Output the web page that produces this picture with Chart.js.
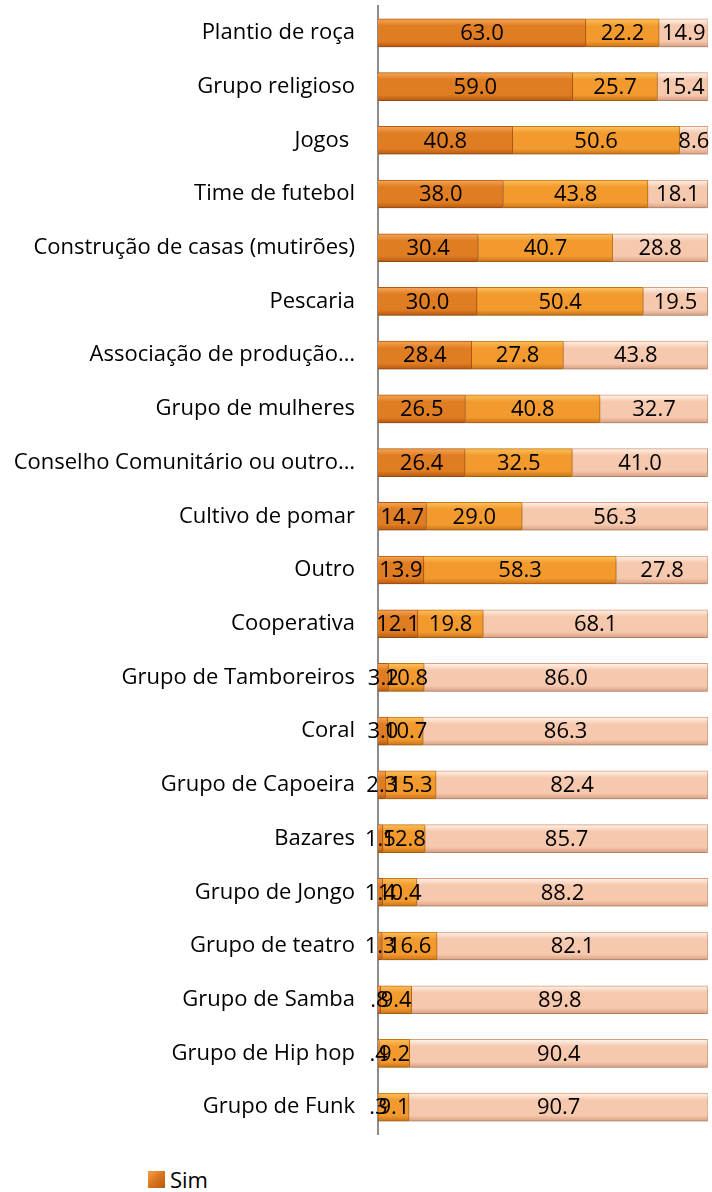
<!DOCTYPE html>
<html>
<head>
<meta charset="utf-8">
<script src="https://cdn.jsdelivr.net/npm/chart.js@4/dist/chart.umd.min.js"></script>
<style>
  html, body { margin: 0; padding: 0; background: #fff; }
  #wrap { position: relative; width: 712px; height: 1192px; }
  #c { position: absolute; left: 0; top: 0; }
  #legend { position: absolute; left: 148px; top: 1164px; font-family: "Open Sans", sans-serif; font-size: 22px; color: #000; display: flex; align-items: center; }
  #legend .box { width: 17px; height: 17px; margin-right: 5px; background: linear-gradient(135deg, #f3a14a 0%, #d9731c 50%, #b85a10 100%); }
</style>
</head>
<body>
<div id="wrap">
  <canvas id="c" width="712" height="1145"></canvas>
  <div id="legend"><span class="box"></span><span>Sim</span></div>
</div>
<script>
const categories = [
  "Plantio de roça", "Grupo religioso", "Jogos ", "Time de futebol",
  "Construção de casas (mutirões)", "Pescaria", "Associação de produção…",
  "Grupo de mulheres", "Conselho Comunitário ou outro…", "Cultivo de pomar",
  "Outro", "Cooperativa", "Grupo de Tamboreiros", "Coral", "Grupo de Capoeira",
  "Bazares", "Grupo de Jongo", "Grupo de teatro", "Grupo de Samba",
  "Grupo de Hip hop", "Grupo de Funk"
];
const sim = [63.0, 59.0, 40.8, 38.0, 30.4, 30.0, 28.4, 26.5, 26.4, 14.7, 13.9, 12.1, 3.2, 3.0, 2.3, 1.5, 1.4, 1.3, 0.8, 0.4, 0.3];
const asVezes = [22.2, 25.7, 50.6, 43.8, 40.7, 50.4, 27.8, 40.8, 32.5, 29.0, 58.3, 19.8, 10.8, 10.7, 15.3, 12.8, 10.4, 16.6, 9.4, 9.2, 9.1];
const nao = [14.9, 15.4, 8.6, 18.1, 28.8, 19.5, 43.8, 32.7, 41.0, 56.3, 27.8, 68.1, 86.0, 86.3, 82.4, 85.7, 88.2, 82.1, 89.8, 90.4, 90.7];
const seriesNames = ["Sim", "Às vezes", "Não"];

const palettes = [
  { light: "#f6a757", main: "#e07d22", dark: "#b65a12" },
  { light: "#fcc15c", main: "#f39a2e", dark: "#c97418" },
  { light: "#fff3ea", main: "#f6c8ad", dark: "#d9a082" }
];

function gradFor(p) {
  return function(ctx) {
    const chart = ctx.chart;
    const ys = chart.scales && chart.scales.y;
    if (!ys || ctx.dataIndex === undefined) return p.main;
    const yc = ys.getPixelForValue(ctx.dataIndex);
    if (!isFinite(yc)) return p.main;
    const g = chart.ctx.createLinearGradient(0, yc - 14, 0, yc + 14);
    g.addColorStop(0, p.light);
    g.addColorStop(0.25, p.main);
    g.addColorStop(0.8, p.main);
    g.addColorStop(1, p.dark);
    return g;
  };
}

function fmt(v) {
  let s = v.toFixed(1);
  if (s.startsWith("0.")) s = s.slice(1);
  return s;
}

const shadowPlugin = {
  id: "barShadow",
  beforeDatasetsDraw(chart) {
    const ctx = chart.ctx;
    ctx.save();
    ctx.shadowColor = "rgba(0,0,0,0.22)";
    ctx.shadowBlur = 4;
    ctx.shadowOffsetY = 3;
  },
  afterDatasetsDraw(chart) {
    chart.ctx.restore();
  }
};

const labelPlugin = {
  id: "segLabels",
  afterDatasetsDraw(chart) {
    const ctx = chart.ctx;
    ctx.save();
    ctx.shadowColor = "rgba(0,0,0,0)";
    ctx.font = '22px "Open Sans", sans-serif';
    ctx.fillStyle = "#000";
    ctx.textAlign = "center";
    ctx.textBaseline = "middle";
    chart.data.datasets.forEach((ds, di) => {
      const meta = chart.getDatasetMeta(di);
      meta.data.forEach((bar, i) => {
        const x = (bar.x + bar.base) / 2;
        ctx.fillText(fmt(ds.data[i]), x, bar.y + 1);
      });
    });
    ctx.restore();
  }
};

new Chart(document.getElementById("c"), {
  type: "bar",
  data: {
    labels: categories,
    datasets: [
      { label: seriesNames[0], data: sim, backgroundColor: gradFor(palettes[0]), borderColor: palettes[0].dark, borderWidth: 1, barThickness: 28 },
      { label: seriesNames[1], data: asVezes, backgroundColor: gradFor(palettes[1]), borderColor: palettes[1].dark, borderWidth: 1, barThickness: 28 },
      { label: seriesNames[2], data: nao, backgroundColor: gradFor(palettes[2]), borderColor: palettes[2].dark, borderWidth: 1, barThickness: 28 }
    ]
  },
  options: {
    indexAxis: "y",
    responsive: false,
    animation: false,
    layout: { padding: { top: 6, right: 4, bottom: 11, left: 0 } },
    plugins: { legend: { display: false }, tooltip: { enabled: false } },
    scales: {
      x: { stacked: true, min: 0, max: 100, display: false },
      y: {
        stacked: true,
        grid: { display: true, drawOnChartArea: false, drawTicks: true, tickLength: 23, tickColor: "rgba(0,0,0,0)" },
        border: { display: true, color: "#8c8c8c", width: 2 },
        ticks: { color: "#000", padding: 0, font: { family: '"Open Sans", sans-serif', size: 22 } },
        afterFit(scale) { scale.width = 378; scale.paddingTop = 0; scale.paddingBottom = 0; }
      }
    }
  },
  plugins: [shadowPlugin, labelPlugin]
});
</script>
</body>
</html>
